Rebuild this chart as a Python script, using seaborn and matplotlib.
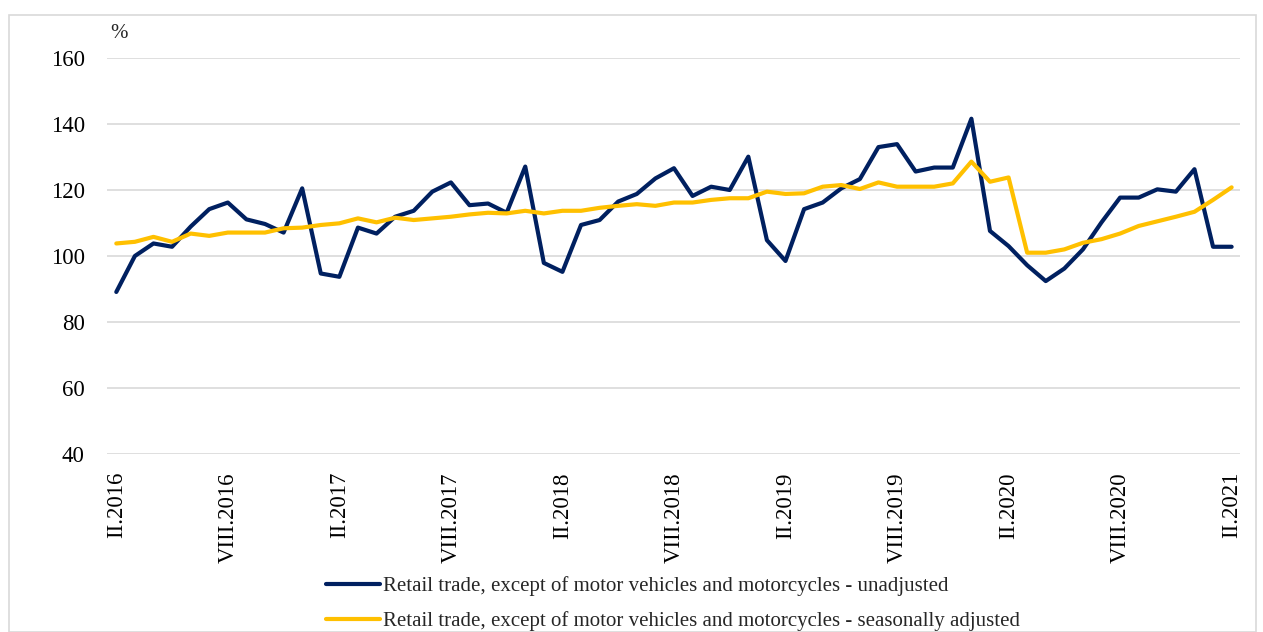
import numpy as np
import pandas as pd
import matplotlib
matplotlib.use("Agg")
import matplotlib.pyplot as plt
import seaborn as sns
from matplotlib.patches import Rectangle
from matplotlib.lines import Line2D

# Months II.2016 .. II.2021 (61 monthly points)
unadjusted = [
    89.1, 100.0, 103.8, 102.8, 108.9, 114.2, 116.2, 111.1, 109.7, 107.1,
    120.5, 94.7, 93.7, 108.6, 106.8, 111.9, 113.7, 119.5, 122.3, 115.4,
    115.9, 113.1, 127.1, 97.9, 95.2, 109.4, 110.9, 116.5, 118.8, 123.5,
    126.6, 118.2, 121.0, 120.0, 130.1, 104.8, 98.5, 114.2, 116.2, 120.5,
    123.3, 133.0, 133.9, 125.6, 126.8, 126.8, 141.6, 107.6, 103.0, 97.2,
    92.4, 96.2, 102.0, 110.2, 117.7, 117.7, 120.2, 119.5, 126.3, 102.8,
    102.8,
]
seasonally_adjusted = [
    103.8, 104.3, 105.8, 104.3, 106.8, 106.1, 107.1, 107.1, 107.1, 108.4,
    108.6, 109.4, 109.9, 111.4, 110.2, 111.6, 110.9, 111.4, 111.9, 112.6,
    113.1, 112.9, 113.7, 112.9, 113.7, 113.7, 114.6, 115.2, 115.7, 115.2,
    116.2, 116.2, 117.0, 117.5, 117.5, 119.5, 118.8, 119.0, 121.0, 121.5,
    120.3, 122.3, 121.0, 121.0, 121.0, 122.0, 128.6, 122.5, 123.8, 101.0,
    101.0, 102.0, 104.0, 105.1, 106.8, 109.1, 110.5, 111.9, 113.4, 117.0,
    120.8,
]
tick_labels = ["II.2016", "VIII.2016", "II.2017", "VIII.2017", "II.2018",
               "VIII.2018", "II.2019", "VIII.2019", "II.2020", "VIII.2020",
               "II.2021"]
series_names = [
    "Retail trade, except of motor vehicles and motorcycles - unadjusted",
    "Retail trade, except of motor vehicles and motorcycles - seasonally adjusted",
]
colors = ["#002060", "#FFC000"]

sns.set_theme(style="white")
plt.rcParams["font.family"] = ["Liberation Serif", "DejaVu Serif"]

FS = 15
TFS = 16.5

df = pd.DataFrame({
    "month": np.arange(len(unadjusted)),
    series_names[0]: unadjusted,
    series_names[1]: seasonally_adjusted,
})
long = df.melt(id_vars="month", var_name="series", value_name="value")

fig = plt.figure(figsize=(12.63, 6.32), dpi=100)
ax = fig.add_axes([107/1263, 1-454/632, (1240-107)/1263, (454-58)/632])

sns.lineplot(data=long, x="month", y="value", hue="series",
             palette=colors, linewidth=3.0, ax=ax, legend=False,
             zorder=3)

ax.set_xlim(-0.5, 60.45)
ax.set_ylim(40, 160)
ax.set_yticks(range(40, 161, 20))
ax.set_xticks(range(0, 61, 6))
ax.set_xticklabels(tick_labels, rotation=90, fontsize=TFS, color="#000000")
ax.tick_params(axis="y", labelsize=TFS, length=0, pad=16, colors="#000000")
ax.tick_params(axis="x", length=0, pad=13)
ax.grid(axis="y", color="#d9d9d9", linewidth=1.2)
ax.grid(axis="x", visible=False)
for s in ax.spines.values():
    s.set_visible(False)
ax.set_xlabel("")
ax.set_ylabel("")

fig.text(110/1263, 1-33/632, "%", fontsize=FS, ha="left", va="center")

handles = [Line2D([], [], color=c, linewidth=3.0, solid_capstyle="round") for c in colors]
fig.legend(handles, series_names, loc="upper left",
           bbox_to_anchor=(326/1263, 1-576/632), frameon=False,
           fontsize=FS, handlelength=2.6, handletextpad=0.15,
           labelspacing=0.75, borderpad=0, borderaxespad=0)

fig.patches.append(Rectangle((9/1263, 0.0), (1256-9)/1263, 1-15/632,
                             transform=fig.transFigure, fill=False,
                             edgecolor="#d9d9d9", linewidth=1.2))

fig.savefig("out.png", dpi=100)
